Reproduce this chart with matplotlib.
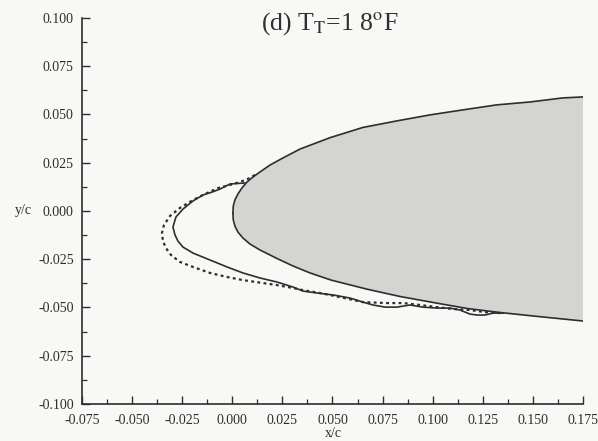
import matplotlib
matplotlib.use("Agg")
import matplotlib.pyplot as plt
from matplotlib.ticker import MultipleLocator, FormatStrFormatter

plt.rcParams['font.family'] = ['Liberation Serif', 'DejaVu Serif']
plt.rcParams['mathtext.fontset'] = 'stix'

# Clean airfoil (upper and lower surfaces), x/c, y/c
af_upper_x = [0.0003, 0.0005, 0.0013, 0.0028, 0.0048, 0.0073, 0.0103, 0.0138, 0.0188, 0.0253,
              0.0338, 0.0488, 0.0652, 0.0822, 0.0987, 0.1151, 0.1321, 0.1486, 0.1650, 0.1750]
af_upper_y = [-0.0010, 0.0026, 0.0057, 0.0088, 0.0119, 0.0150, 0.0176, 0.0202, 0.0238, 0.0275,
              0.0321, 0.0380, 0.0433, 0.0467, 0.0498, 0.0524, 0.0550, 0.0565, 0.0586, 0.0591]
af_lower_x = [0.0003, 0.0005, 0.0013, 0.0028, 0.0053, 0.0088, 0.0138, 0.0223, 0.0303, 0.0388,
              0.0493, 0.0672, 0.0837, 0.1002, 0.1171, 0.1336, 0.1501, 0.1750]
af_lower_y = [-0.0010, -0.0047, -0.0078, -0.0109, -0.0140, -0.0171, -0.0202, -0.0246, -0.0285, -0.0321,
              -0.0358, -0.0405, -0.0443, -0.0474, -0.0505, -0.0526, -0.0544, -0.0570]

# Ice shape 1 (solid line)
ice_solid_x = [0.0063, -0.0011, -0.0061, -0.0101, -0.0146, -0.0196, -0.0246, -0.0281, -0.0296,
               -0.0286, -0.0271, -0.0246, -0.0196, -0.0111, -0.0026, 0.0053, 0.0138, 0.0223,
               0.0303, 0.0353, 0.0423, 0.0503, 0.0587, 0.0652, 0.0702, 0.0762, 0.0822, 0.0887,
               0.0952, 0.1021, 0.1086, 0.1136, 0.1186, 0.1221, 0.1261, 0.1301, 0.1351]
ice_solid_y = [0.0145, 0.0140, 0.0114, 0.0098, 0.0083, 0.0052, 0.0010, -0.0031, -0.0083,
               -0.0124, -0.0156, -0.0187, -0.0218, -0.0254, -0.0290, -0.0321, -0.0347, -0.0368,
               -0.0394, -0.0415, -0.0425, -0.0435, -0.0451, -0.0472, -0.0487, -0.0498, -0.0498, -0.0487,
               -0.0498, -0.0503, -0.0503, -0.0513, -0.0534, -0.0539, -0.0539, -0.0529, -0.0529]

# Ice shape 2 (dotted line)
ice_dot_x = [0.0113, 0.0088, 0.0038, -0.0011, -0.0071, -0.0126, -0.0196, -0.0261, -0.0311,
             -0.0341, -0.0351, -0.0346, -0.0331, -0.0306, -0.0261, -0.0196, -0.0111, -0.0026,
             0.0053, 0.0138, 0.0223, 0.0303, 0.0353, 0.0438, 0.0537, 0.0652, 0.0772, 0.0852,
             0.0937, 0.1021, 0.1101, 0.1186, 0.1261, 0.1336]
ice_dot_y = [0.0187, 0.0171, 0.0150, 0.0135, 0.0119, 0.0093, 0.0057, 0.0016, -0.0026,
             -0.0073, -0.0114, -0.0156, -0.0192, -0.0228, -0.0264, -0.0290, -0.0321, -0.0342,
             -0.0358, -0.0371, -0.0384, -0.0399, -0.0410, -0.0425, -0.0446, -0.0472, -0.0477, -0.0477,
             -0.0487, -0.0498, -0.0508, -0.0513, -0.0524, -0.0529]

x_ticks = [-0.075, -0.050, -0.025, 0.000, 0.025, 0.050, 0.075, 0.100, 0.125, 0.150, 0.175]
y_ticks = [-0.100, -0.075, -0.050, -0.025, 0.000, 0.025, 0.050, 0.075, 0.100]
title_text = "(d) T$_{\\mathrm{T}}$=1 8$^{\\mathrm{o}}$F"

bg = '#f8f8f6'
ink = '#2e2e2e'

fig = plt.figure(figsize=(5.98, 4.41), dpi=100, facecolor=bg)
ax = fig.add_axes([0.1371, 0.0839, 0.8378, 0.8753])
ax.set_facecolor(bg)

poly_x = af_upper_x[::-1] + af_lower_x
poly_y = af_upper_y[::-1] + af_lower_y
ax.fill(poly_x, poly_y, color='#d4d4d2', lw=0, zorder=1)
ax.plot(af_upper_x, af_upper_y, color=ink, lw=1.2, zorder=3)
ax.plot(af_lower_x, af_lower_y, color=ink, lw=1.2, zorder=3)

ax.plot(ice_solid_x, ice_solid_y, color=ink, lw=1.2, zorder=4)
ax.plot(ice_dot_x, ice_dot_y, color=ink, lw=1.6, linestyle=(0, (1.3, 1.5)), zorder=4)

ax.set_xlim(-0.075, 0.175)
ax.set_ylim(-0.100, 0.100)
ax.set_xticks(x_ticks)
ax.set_yticks(y_ticks)
ax.xaxis.set_major_formatter(FormatStrFormatter('%.3f'))
ax.yaxis.set_major_formatter(FormatStrFormatter('%.3f'))
ax.xaxis.set_minor_locator(MultipleLocator(0.0125))
ax.yaxis.set_minor_locator(MultipleLocator(0.0125))

for s in ['top', 'right']:
    ax.spines[s].set_visible(False)
for s in ['left', 'bottom']:
    ax.spines[s].set_color(ink)
    ax.spines[s].set_linewidth(1.2)

ax.tick_params(which='major', direction='in', length=6, width=1.0, color=ink,
               labelsize=10, labelcolor=ink)
ax.tick_params(axis='x', which='major', pad=7)
ax.tick_params(axis='y', which='major', pad=6)
ax.tick_params(which='minor', direction='in', length=3.5, width=0.9, color=ink)

ax.set_xlabel('x/c', fontsize=10, color=ink, va='center')
ax.xaxis.set_label_coords(0.501, -0.076)
ax.set_ylabel('y/c', fontsize=10, color=ink, rotation=0, ha='center', va='center')
ax.yaxis.set_label_coords(-0.116, 0.5)

ax.text(0.494, 0.985, title_text, transform=ax.transAxes, ha='center', va='center',
        fontsize=18.5, color=ink)

fig.savefig('out.png', dpi=100, facecolor=bg)
